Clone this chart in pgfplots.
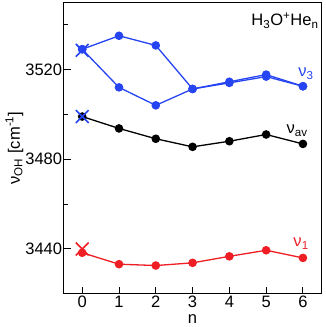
\documentclass[border={0bp 2bp 3.5bp 1.5bp}]{standalone}
\usepackage{pgfplots}
\pgfplotsset{compat=1.18}
\usepackage{fontspec}
\setmainfont{Liberation Sans}
\definecolor{cblue}{RGB}{38,68,242}
\definecolor{cred}{RGB}{238,30,36}
\begin{document}
\fontsize{16.5}{19}\selectfont
\begin{tikzpicture}
\begin{axis}[
  scale only axis,
  width=256bp, height=290bp,
  xmin=-0.5, xmax=6.5, ymin=3420, ymax=3550,
  xtick={0,...,6},
  ytick={3440,3480,3520},
  minor ytick={3460,3500,3540},
  tick align=inside,
  tick pos=left,
  major tick length=7bp,
  minor tick length=4.5bp,
  axis line style={line width=1.2pt},
  every tick/.style={line width=1pt, black},
  /pgf/number format/assume math mode=true,
  /pgf/number format/1000 sep={},
  tick label style={font=\fontsize{16.5}{19}\selectfont},
  yticklabel style={xshift=4bp},
  xticklabel style={inner sep=1bp, yshift=-1bp},
  label style={font=\fontsize{16.5}{19}\selectfont},
  xlabel={n},
  ylabel={ν\textsubscript{OH} [cm\textsuperscript{-1}]},
  xlabel style={at={(axis description cs:0.5,0)}, anchor=base, yshift=-30bp, inner sep=1bp},
  ylabel style={yshift=-9bp},
  clip=false,
]
\addplot[cblue, line width=1.3pt, mark=*, mark size=3.6bp] coordinates {(0,3529) (1,3535) (2,3530.7) (3,3511.3) (4,3514.5) (5,3517.7) (6,3512.5)};
\addplot[cblue, line width=1.3pt, mark=*, mark size=3.6bp] coordinates {(0,3529) (1,3512) (2,3504) (3,3511.3) (4,3514) (5,3516.8) (6,3512.5)};
\addplot[black, line width=1.3pt, mark=*, mark size=3.6bp] coordinates {(0,3499) (1,3493.7) (2,3489.1) (3,3485.5) (4,3488) (5,3491) (6,3486.8)};
\addplot[cred, line width=1.3pt, mark=*, mark size=3.6bp] coordinates {(0,3438.3) (1,3433.2) (2,3432.6) (3,3433.8) (4,3436.7) (5,3439.4) (6,3436)};
\addplot[cblue, only marks, mark=x, mark size=9bp, mark options={line width=1.6pt}] coordinates {(0,3528.5) (0,3499)};
\addplot[cred, only marks, mark=x, mark size=9bp, mark options={line width=1.6pt}] coordinates {(0,3440)};
\node[cblue] at (axis cs:6.08,3518) {ν\textsubscript{3}};
\node[black] at (axis cs:5.84,3492.6) {ν\textsubscript{av}};
\node[cred] at (axis cs:5.95,3442.4) {ν\textsubscript{1}};
\node[anchor=north east, inner sep=0pt] at (rel axis cs:0.99,0.965) {H\textsubscript{3}O\textsuperscript{+}He\textsubscript{n}};
\end{axis}
\end{tikzpicture}
\end{document}
